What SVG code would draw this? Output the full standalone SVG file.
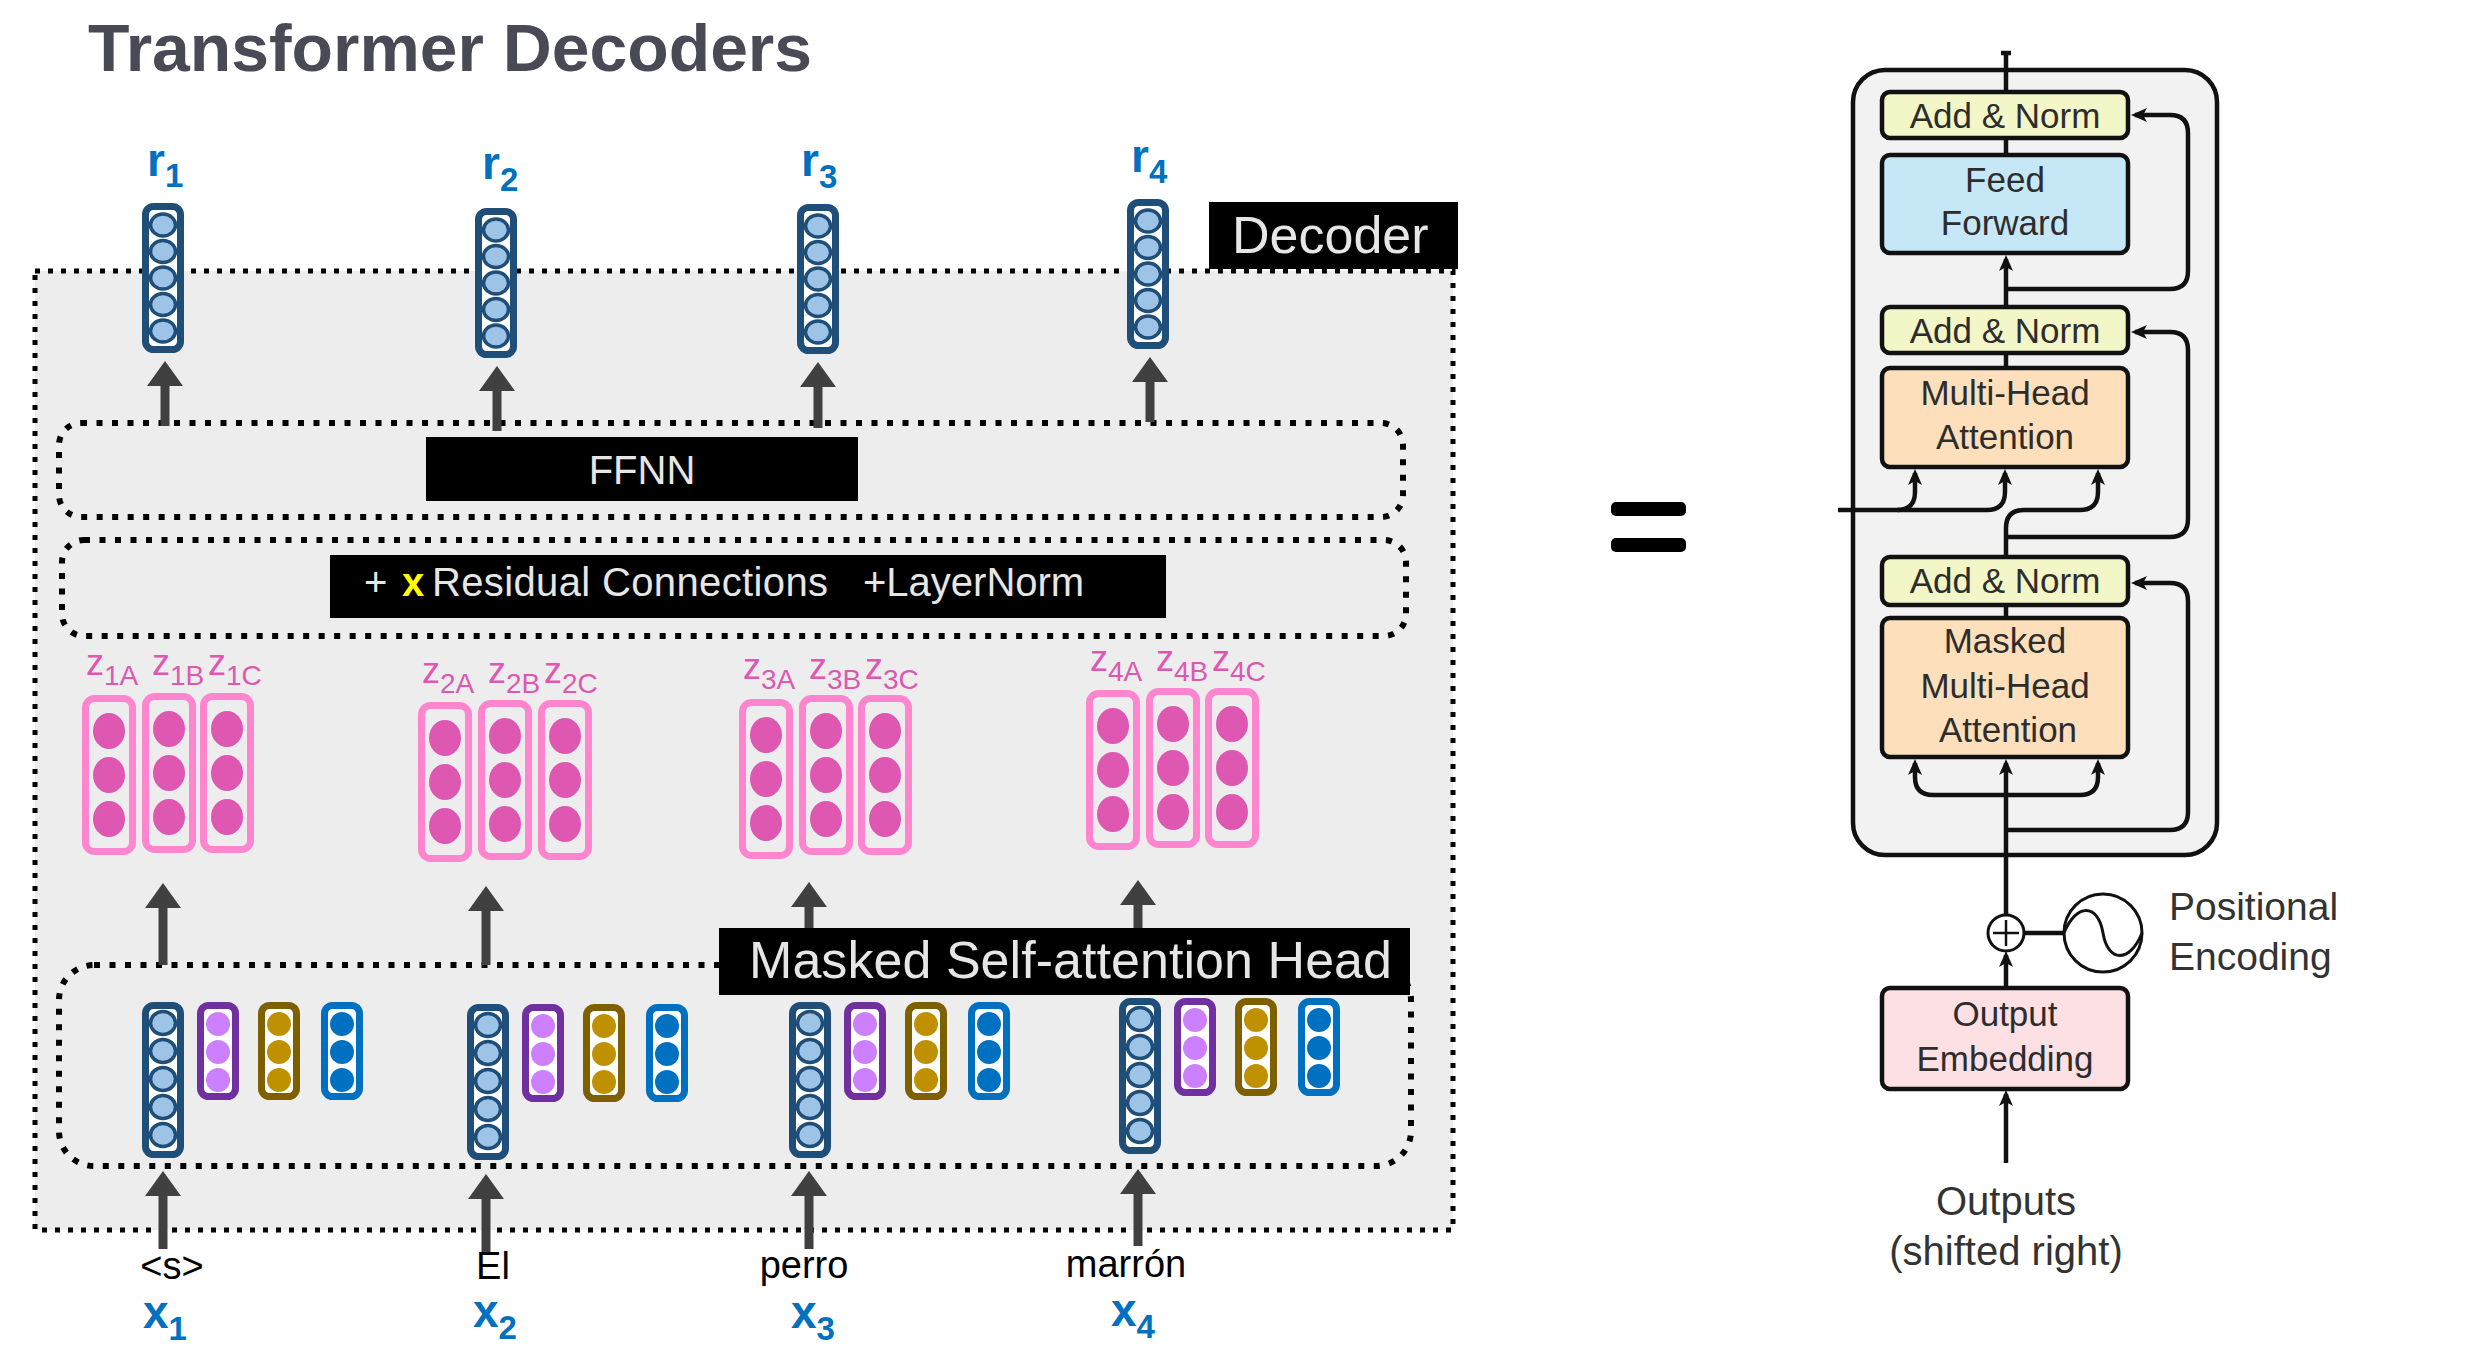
<svg xmlns="http://www.w3.org/2000/svg" width="2482" height="1356" viewBox="0 0 2482 1356">
<defs>
<style>
text{font-family:"Liberation Sans",Arial,sans-serif}
.dots{fill:none;stroke:#000;stroke-width:6;stroke-dasharray:6 9.5}
.arr{fill:none;stroke:#404040;stroke-width:9;marker-end:url(#ah)}
.lab{fill:#000}
.lt{fill:#e6e6e6}
.zl{fill:#de57b1;font-size:36px}
.bt{fill:#0070c0;font-size:46px;font-weight:bold}
.wd{font-size:38px;fill:#000;text-anchor:middle}
.box{stroke:#111;stroke-width:4.5}
.rt{font-size:35px;fill:#2d2d2d;text-anchor:middle}
.ln{fill:none;stroke:#111;stroke-width:4.5}
.la{fill:none;stroke:#111;stroke-width:4.5;marker-end:url(#bh)}
</style>
<marker id="ah" markerUnits="userSpaceOnUse" viewBox="0 0 25 36" markerWidth="25" markerHeight="36" refX="2" refY="18" orient="auto"><path d="M0,0 L25,18 L0,36 z" fill="#404040"/></marker>
<marker id="bh" markerUnits="userSpaceOnUse" viewBox="0 0 16 14" markerWidth="16" markerHeight="14" refX="12" refY="7" orient="auto"><path d="M0,0 L16,7 L0,14 L4,7 z" fill="#111"/></marker>
<g id="vr">
<rect x="3.5" y="3.5" width="35" height="143" rx="8" fill="#fff" stroke="#1f4e79" stroke-width="7"/>
<g fill="#9dc3e6" stroke="#1f4e79" stroke-width="3.5">
<ellipse cx="21" cy="22" rx="12.5" ry="11"/><ellipse cx="21" cy="48.5" rx="12.5" ry="11"/><ellipse cx="21" cy="75" rx="12.5" ry="11"/><ellipse cx="21" cy="101.5" rx="12.5" ry="11"/><ellipse cx="21" cy="128" rx="12.5" ry="11"/>
</g>
</g>
<g id="vx">
<rect x="3.5" y="3.5" width="35" height="149" rx="8" fill="#fff" stroke="#1f4e79" stroke-width="7"/>
<g fill="#9dc3e6" stroke="#1f4e79" stroke-width="3.5">
<ellipse cx="21" cy="21" rx="12.5" ry="11.5"/><ellipse cx="21" cy="49" rx="12.5" ry="11.5"/><ellipse cx="21" cy="77" rx="12.5" ry="11.5"/><ellipse cx="21" cy="105" rx="12.5" ry="11.5"/><ellipse cx="21" cy="133" rx="12.5" ry="11.5"/>
</g>
</g>
<g id="vp">
<rect x="3.5" y="3.5" width="35" height="91" rx="8" fill="#fff" stroke="#7030a0" stroke-width="7"/>
<g fill="#cc80ff"><circle cx="21" cy="22" r="12"/><circle cx="21" cy="50" r="12"/><circle cx="21" cy="78" r="12"/></g>
</g>
<g id="vg">
<rect x="3.5" y="3.5" width="35" height="91" rx="8" fill="#fff" stroke="#7f6000" stroke-width="7"/>
<g fill="#bf9000"><circle cx="21" cy="22" r="12"/><circle cx="21" cy="50" r="12"/><circle cx="21" cy="78" r="12"/></g>
</g>
<g id="vc">
<rect x="3.5" y="3.5" width="35" height="91" rx="8" fill="#fff" stroke="#0070c0" stroke-width="7"/>
<g fill="#0070c0"><circle cx="21" cy="22" r="12"/><circle cx="21" cy="50" r="12"/><circle cx="21" cy="78" r="12"/></g>
</g>
<g id="zv">
<rect x="3.5" y="3.5" width="47" height="153" rx="9" fill="none" stroke="#ff85cf" stroke-width="7"/>
<g fill="#de57b1"><ellipse cx="27" cy="36" rx="16" ry="18"/><ellipse cx="27" cy="80" rx="16" ry="18"/><ellipse cx="27" cy="124" rx="16" ry="18"/></g>
</g>
</defs>

<rect width="2482" height="1356" fill="#fff"/>

<text id="title" x="88" y="71" font-size="66" font-weight="bold" fill="#4a4a57" textLength="724" lengthAdjust="spacingAndGlyphs">Transformer Decoders</text>

<g id="decoder-frame">
<rect x="35" y="271" width="1418" height="959" fill="#ededed" stroke="#000" stroke-width="5" stroke-dasharray="5 8"/>
</g>
<g id="ffnn-box"><rect class="dots" x="59" y="423" width="1344" height="94" rx="22"/></g>
<g id="residual-box"><rect class="dots" x="62" y="540" width="1344" height="96" rx="22"/></g>
<g id="masked-box"><rect class="dots" x="59" y="965" width="1352" height="201" rx="35"/></g>

<g id="connectors">
<line class="arr" x1="165" y1="426" x2="165" y2="384"/>
<line class="arr" x1="497" y1="431" x2="497" y2="389"/>
<line class="arr" x1="818" y1="428" x2="818" y2="385"/>
<line class="arr" x1="1150" y1="422" x2="1150" y2="380"/>
<line class="arr" x1="163" y1="965" x2="163" y2="906"/>
<line class="arr" x1="486" y1="965" x2="486" y2="909"/>
<line class="arr" x1="809" y1="960" x2="809" y2="905"/>
<line class="arr" x1="1138" y1="960" x2="1138" y2="903"/>
<line class="arr" x1="163" y1="1249" x2="163" y2="1194"/>
<line class="arr" x1="486" y1="1253" x2="486" y2="1197"/>
<line class="arr" x1="809" y1="1249" x2="809" y2="1194"/>
<line class="arr" x1="1138" y1="1246" x2="1138" y2="1192"/>
</g>

<g id="r1"><use href="#vr" x="142" y="203"/><text class="bt" x="147" y="176">r<tspan font-size="33" dy="11">1</tspan></text></g>
<g id="r2"><use href="#vr" x="475" y="208"/><text class="bt" x="482" y="179">r<tspan font-size="33" dy="12">2</tspan></text></g>
<g id="r3"><use href="#vr" x="797" y="204"/><text class="bt" x="801" y="176">r<tspan font-size="33" dy="12">3</tspan></text></g>
<g id="r4"><use href="#vr" x="1127" y="199"/><text class="bt" x="1131" y="172">r<tspan font-size="33" dy="11">4</tspan></text></g>

<g id="z1">
<use href="#zv" x="82" y="695"/><use href="#zv" x="142" y="693"/><use href="#zv" x="200" y="693"/>
<text class="zl" x="86" y="675">z<tspan font-size="28" dy="10">1A</tspan></text>
<text class="zl" x="152" y="675">z<tspan font-size="28" dy="10">1B</tspan></text>
<text class="zl" x="208" y="675">z<tspan font-size="28" dy="10">1C</tspan></text>
</g>
<g id="z2">
<use href="#zv" x="418" y="702"/><use href="#zv" x="478" y="700"/><use href="#zv" x="538" y="700"/>
<text class="zl" x="422" y="683">z<tspan font-size="28" dy="10">2A</tspan></text>
<text class="zl" x="488" y="683">z<tspan font-size="28" dy="10">2B</tspan></text>
<text class="zl" x="544" y="683">z<tspan font-size="28" dy="10">2C</tspan></text>
</g>
<g id="z3">
<use href="#zv" x="739" y="699"/><use href="#zv" x="799" y="695"/><use href="#zv" x="858" y="695"/>
<text class="zl" x="743" y="679">z<tspan font-size="28" dy="10">3A</tspan></text>
<text class="zl" x="809" y="679">z<tspan font-size="28" dy="10">3B</tspan></text>
<text class="zl" x="865" y="679">z<tspan font-size="28" dy="10">3C</tspan></text>
</g>
<g id="z4">
<use href="#zv" x="1086" y="690"/><use href="#zv" x="1146" y="688"/><use href="#zv" x="1205" y="688"/>
<text class="zl" x="1090" y="671">z<tspan font-size="28" dy="10">4A</tspan></text>
<text class="zl" x="1156" y="671">z<tspan font-size="28" dy="10">4B</tspan></text>
<text class="zl" x="1212" y="671">z<tspan font-size="28" dy="10">4C</tspan></text>
</g>

<g id="x1-vectors"><use href="#vx" x="142" y="1002"/><use href="#vp" x="197" y="1002"/><use href="#vg" x="258" y="1002"/><use href="#vc" x="321" y="1002"/></g>
<g id="x2-vectors"><use href="#vx" x="467" y="1004"/><use href="#vp" x="522" y="1004"/><use href="#vg" x="583" y="1004"/><use href="#vc" x="646" y="1004"/></g>
<g id="x3-vectors"><use href="#vx" x="789" y="1002"/><use href="#vp" x="844" y="1002"/><use href="#vg" x="905" y="1002"/><use href="#vc" x="968" y="1002"/></g>
<g id="x4-vectors"><use href="#vx" x="1119" y="998"/><use href="#vp" x="1174" y="998"/><use href="#vg" x="1235" y="998"/><use href="#vc" x="1298" y="998"/></g>

<g id="decoder-label"><rect class="lab" x="1209" y="202" width="249" height="67"/><text class="lt" x="1232" y="253" font-size="52">Decoder</text></g>
<g id="ffnn-label"><rect class="lab" x="426" y="437" width="432" height="64"/><text class="lt" x="642" y="484" font-size="40" text-anchor="middle">FFNN</text></g>
<g id="residual-label"><rect class="lab" x="330" y="555" width="836" height="63"/>
<text font-size="40" y="596"><tspan class="lt" x="364">+</tspan><tspan x="402" fill="#ffff00" font-weight="bold">x</tspan><tspan class="lt" x="432" textLength="396">Residual Connections</tspan><tspan class="lt" x="863">+LayerNorm</tspan></text></g>
<g id="masked-label"><rect class="lab" x="719" y="928" width="691" height="67"/><text class="lt" x="749" y="978" font-size="52" textLength="643">Masked Self-attention Head</text></g>

<g id="inputs">
<text class="wd" x="172" y="1279">&lt;s&gt;</text>
<text class="wd" x="493" y="1279">El</text>
<text class="wd" x="804" y="1278">perro</text>
<text class="wd" x="1126" y="1277">marrón</text>
<text class="bt" x="143" y="1328">x<tspan font-size="33" dy="12">1</tspan></text>
<text class="bt" x="473" y="1327">x<tspan font-size="33" dy="12">2</tspan></text>
<text class="bt" x="791" y="1328">x<tspan font-size="33" dy="12">3</tspan></text>
<text class="bt" x="1111" y="1326">x<tspan font-size="33" dy="12">4</tspan></text>
</g>

<g id="equals"><rect x="1611" y="502" width="75" height="14" rx="5" fill="#000"/><rect x="1611" y="538" width="75" height="14" rx="5" fill="#000"/></g>

<g id="decoder-block"><rect x="1853" y="70" width="364" height="785" rx="32" fill="#f2f2f2" stroke="#111" stroke-width="4.5"/></g>

<g id="right-connectors">
<line class="ln" x1="2006" y1="52" x2="2006" y2="92"/>
<line class="ln" x1="2001" y1="53" x2="2011" y2="53" stroke-width="3"/>
<line class="ln" x1="2006" y1="138" x2="2006" y2="155"/>
<path class="la" d="M2006,307 V259"/>
<path class="la" d="M2006,289 H2170 Q2188,289 2188,271 V133 Q2188,115 2170,115 H2135"/>
<line class="ln" x1="2006" y1="353" x2="2006" y2="368"/>
<path class="la" d="M1838,510 H1897 Q1915,510 1915,492 V473"/>
<path class="la" d="M1897,510 H1987 Q2005,510 2005,492 V473"/>
<path class="la" d="M2006,557 V528 Q2006,510 2024,510 H2080 Q2098,510 2098,492 V473"/>
<path class="la" d="M2006,537 H2170 Q2188,537 2188,519 V350 Q2188,332 2170,332 H2135"/>
<line class="ln" x1="2006" y1="605" x2="2006" y2="618"/>
<path class="la" d="M2006,915 V763"/>
<path class="la" d="M2006,795 H1933 Q1915,795 1915,777 V763"/>
<path class="la" d="M2006,795 H2080 Q2098,795 2098,777 V763"/>
<path class="la" d="M2006,830 H2170 Q2188,830 2188,812 V601 Q2188,583 2170,583 H2135"/>
<line class="ln" x1="2024" y1="933" x2="2064" y2="933"/>
<path class="la" d="M2006,988 V955"/>
<path class="la" d="M2006,1163 V1094"/>
</g>

<g id="add-norm-1"><rect class="box" x="1882" y="92" width="246" height="46" rx="8" fill="#f3f6c6"/><text class="rt" x="2005" y="128">Add &amp; Norm</text></g>
<g id="feed-forward"><rect class="box" x="1882" y="155" width="246" height="98" rx="8" fill="#c6e7f6"/><text class="rt" x="2005" y="192">Feed</text><text class="rt" x="2005" y="235">Forward</text></g>
<g id="add-norm-2"><rect class="box" x="1882" y="307" width="246" height="46" rx="8" fill="#f3f6c6"/><text class="rt" x="2005" y="343">Add &amp; Norm</text></g>
<g id="multi-head"><rect class="box" x="1882" y="368" width="246" height="99" rx="8" fill="#fde0bb"/><text class="rt" x="2005" y="405">Multi-Head</text><text class="rt" x="2005" y="449">Attention</text></g>
<g id="add-norm-3"><rect class="box" x="1882" y="557" width="246" height="48" rx="8" fill="#f3f6c6"/><text class="rt" x="2005" y="593">Add &amp; Norm</text></g>
<g id="masked-multi-head"><rect class="box" x="1882" y="618" width="246" height="139" rx="8" fill="#fde0bb"/><text class="rt" x="2005" y="653">Masked</text><text class="rt" x="2005" y="698">Multi-Head</text><text class="rt" x="2008" y="742">Attention</text></g>
<g id="plus"><circle cx="2006" cy="933" r="18" fill="#fff" stroke="#111" stroke-width="3"/><line x1="1993" y1="933" x2="2019" y2="933" stroke="#111" stroke-width="2.5"/><line x1="2006" y1="920" x2="2006" y2="946" stroke="#111" stroke-width="2.5"/></g>
<g id="positional-encoding"><circle cx="2103" cy="933" r="39" fill="#fff" stroke="#111" stroke-width="3"/><path d="M2064,933 C2076,903 2098,903 2103,933 C2108,963 2130,963 2142,933" fill="none" stroke="#111" stroke-width="3"/>
<text x="2169" y="920" font-size="39" fill="#333">Positional</text><text x="2169" y="970" font-size="39" fill="#333">Encoding</text></g>
<g id="output-embedding"><rect class="box" x="1882" y="988" width="246" height="101" rx="8" fill="#fde0e3"/><text class="rt" x="2005" y="1026">Output</text><text class="rt" x="2005" y="1071">Embedding</text></g>
<g id="outputs-label"><text x="2006" y="1215" font-size="40" fill="#333" text-anchor="middle">Outputs</text><text x="2006" y="1265" font-size="40" fill="#333" text-anchor="middle">(shifted right)</text></g>
</svg>
